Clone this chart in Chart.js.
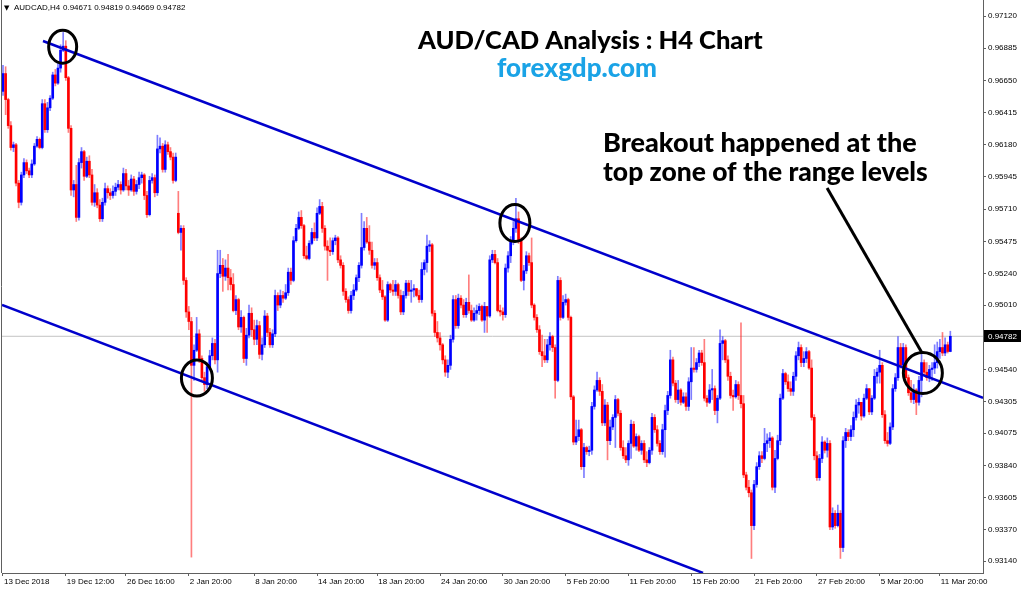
<!DOCTYPE html>
<html><head><meta charset="utf-8">
<script src="https://cdn.jsdelivr.net/npm/chart.js@4.4.1/dist/chart.umd.min.js"></script>
<style>html,body{margin:0;padding:0;background:#fff;}#wrap{width:1024px;height:589px;position:relative;}</style>
</head><body><div id="wrap"><canvas id="c"></canvas></div>
<script>
const symbolName = "AUDCAD,H4";
const opens = [
.9657,.9670,.9651,.9632,.9616,.9618,.9590,.9576,.9596,.9605,
.9599,.9596,.9604,.9617,.9622,.9616,.9648,.9629,.9645,.9652,
.9669,.9663,.9674,.9687,.9690,.9667,.9630,.9585,.9589,.9565,
.9605,.9613,.9595,.9606,.9596,.9576,.9583,.9574,.9564,.9576,
.9586,.9583,.9581,.9584,.9587,.9589,.9585,.9597,.9588,.9585,
.9593,.9584,.9589,.9594,.9596,.9581,.9567,.9592,.9594,.9583,
.9615,.9617,.9600,.9618,.9613,.9609,.9592,.9568,.9554,.9557,
.9519,.9496,.9489,.9457,.9468,.9480,.9462,.9448,.9443,.9456,
.9464,.9473,.9461,.9524,.9530,.9522,.9528,.9521,.9516,.9497,
.9505,.9485,.9492,.9462,.9479,.9495,.9483,.9476,.9486,.9465,
.9472,.9493,.9481,.9472,.9480,.9508,.9501,.9508,.9506,.9510,
.9525,.9519,.9548,.9557,.9565,.9559,.9537,.9535,.9546,.9554,
.9550,.9568,.9573,.9557,.9544,.9541,.9540,.9548,.9550,.9534,
.9530,.9511,.9505,.9497,.9508,.9512,.9521,.9530,.9543,.9557,
.9547,.9541,.9530,.9532,.9521,.9512,.9507,.9490,.9516,.9512,
.9511,.9516,.9508,.9496,.9508,.9517,.9511,.9512,.9513,.9508,
.9505,.9527,.9532,.9544,.9545,.9495,.9481,.9477,.9472,.9461,
.9452,.9457,.9476,.9505,.9486,.9506,.9501,.9494,.9503,.9497,
.9490,.9495,.9497,.9500,.9490,.9500,.9493,.9534,.9538,.9532,
.9497,.9496,.9494,.9528,.9537,.9548,.9557,.9564,.9548,.9519,
.9526,.9537,.9532,.9501,.9492,.9483,.9467,.9464,.9461,.9472,
.9478,.9470,.9446,.9519,.9492,.9503,.9505,.9492,.9434,.9401,
.9405,.9410,.9383,.9397,.9394,.9395,.9427,.9439,.9446,.9438,
.9415,.9428,.9402,.9412,.9419,.9432,.9422,.9397,.9391,.9388,
.9400,.9414,.9398,.9405,.9395,.9400,.9388,.9386,.9395,.9419,
.9410,.9400,.9394,.9410,.9424,.9435,.9461,.9444,.9432,.9439,
.9430,.9434,.9427,.9445,.9455,.9454,.9459,.9466,.9459,.9433,
.9430,.9439,.9440,.9424,.9433,.9473,.9475,.9461,.9449,.9435,
.9434,.9443,.9435,.9429,.9377,.9368,.9364,.9340,.9370,.9383,
.9391,.9389,.9400,.9402,.9404,.9368,.9389,.9402,.9433,.9451,
.9445,.9440,.9438,.9449,.9464,.9470,.9459,.9462,.9467,.9455,
.9419,.9391,.9375,.9389,.9401,.9395,.9400,.9339,.9349,.9340,
.9349,.9324,.9402,.9408,.9405,.9410,.9419,.9428,.9430,.9420,
.9433,.9440,.9423,.9433,.9449,.9452,.9457,.9421,.9402,.9400,
.9412,.9440,.9448,.9470,.9457,.9470,.9448,.9437,.9432,.9439,
.9430,.9446,.9459,.9452,.9448,.9454,.9455,.9459,.9467,.9470,
.9466,.9472,.94671];
const highs = [
.9676,.9675,.9652,.9635,.9620,.9619,.9592,.9598,.9608,.9607,
.9601,.9607,.9619,.9624,.9623,.9651,.9651,.9649,.9654,.9671,
.9673,.9678,.9691,.9700,.9694,.9668,.9632,.9592,.9603,.9608,
.9616,.9614,.9609,.9610,.9600,.9589,.9586,.9578,.9579,.9590,
.9588,.9586,.9588,.9590,.9592,.9591,.9601,.9600,.9592,.9596,
.9595,.9592,.9598,.9598,.9597,.9584,.9595,.9597,.9596,.9625,
.9623,.9619,.9621,.9620,.9616,.9612,.9612,.9584,.9559,.9559,
.9521,.9500,.9492,.9472,.9492,.9483,.9464,.9452,.9459,.9468,
.9477,.9476,.9541,.9541,.9535,.9534,.9538,.9527,.9524,.9508,
.9506,.9497,.9493,.9484,.9501,.9499,.9490,.9490,.9489,.9477,
.9497,.9495,.9484,.9483,.9512,.9510,.9512,.9511,.9516,.9528,
.9528,.9551,.9560,.9569,.9570,.9560,.9544,.9548,.9557,.9561,
.9572,.9578,.9576,.9559,.9548,.9550,.9550,.9552,.9551,.9537,
.9532,.9513,.9507,.9511,.9516,.9523,.9532,.9568,.9562,.9565,
.9559,.9547,.9535,.9535,.9523,.9519,.9508,.9518,.9517,.9519,
.9519,.9517,.9512,.9511,.9519,.9519,.9519,.9516,.9513,.9512,
.9532,.9534,.9552,.9548,.9546,.9497,.9489,.9481,.9473,.9464,
.9461,.9479,.9508,.9508,.9509,.9508,.9505,.9506,.9523,.9501,
.9499,.9501,.9502,.9501,.9503,.9500,.9537,.9541,.9541,.9535,
.9501,.9499,.9531,.9540,.9551,.9562,.9579,.9569,.9550,.9530,
.9540,.9539,.9550,.9502,.9494,.9486,.9479,.9476,.9476,.9481,
.9479,.9472,.9522,.9521,.9508,.9509,.9506,.9493,.9435,.9417,
.9417,.9411,.9400,.9398,.9398,.9430,.9442,.9452,.9448,.9443,
.9432,.9430,.9417,.9421,.9435,.9433,.9424,.9402,.9397,.9402,
.9417,.9416,.9407,.9406,.9402,.9402,.9394,.9397,.9422,.9421,
.9413,.9402,.9414,.9428,.9438,.9468,.9463,.9446,.9446,.9440,
.9437,.9437,.9448,.9470,.9470,.9462,.9468,.9468,.9476,.9435,
.9443,.9454,.9442,.9435,.9483,.9478,.9476,.9464,.9452,.9439,
.9446,.9445,.9488,.9435,.9379,.9373,.9366,.9373,.9386,.9394,
.9394,.9411,.9407,.9408,.9405,.9395,.9406,.9436,.9454,.9452,
.9450,.9445,.9452,.9467,.9474,.9472,.9467,.9470,.9468,.9461,
.9421,.9394,.9392,.9405,.9402,.9404,.9402,.9353,.9351,.9355,
.9351,.9405,.9411,.9410,.9413,.9423,.9432,.9433,.9430,.9436,
.9443,.9440,.9435,.9454,.9455,.9468,.9459,.9424,.9408,.9415,
.9443,.9451,.9478,.9473,.9473,.9472,.9450,.9446,.9443,.9440,
.9449,.9465,.9461,.9459,.9457,.9459,.9472,.9474,.9476,.9481,
.9477,.9474,.94819];
const lows = [
.9654,.9640,.9630,.9614,.9613,.9588,.9572,.9574,.9594,.9597,
.9594,.9594,.9603,.9616,.9615,.9615,.9627,.9627,.9643,.9651,
.9661,.9662,.9671,.9686,.9665,.9627,.9581,.9580,.9562,.9563,
.9601,.9592,.9594,.9594,.9574,.9573,.9572,.9562,.9562,.9574,
.9579,.9578,.9579,.9581,.9585,.9582,.9584,.9585,.9581,.9584,
.9581,.9582,.9586,.9590,.9578,.9565,.9566,.9590,.9580,.9581,
.9612,.9598,.9598,.9611,.9607,.9590,.9591,.9553,.9541,.9516,
.9492,.9483,.9317,.9446,.9467,.9459,.9445,.9438,.9440,.9454,
.9461,.9458,.9452,.9521,.9511,.9519,.9512,.9512,.9496,.9494,
.9483,.9481,.9459,.9457,.9477,.9478,.9472,.9472,.9462,.9461,
.9470,.9478,.9470,.9470,.9478,.9497,.9499,.9503,.9505,.9508,
.9516,.9518,.9547,.9556,.9557,.9535,.9534,.9534,.9545,.9548,
.9548,.9567,.9554,.9541,.9519,.9537,.9538,.9545,.9532,.9528,
.9508,.9503,.9495,.9495,.9505,.9511,.9518,.9528,.9541,.9546,
.9538,.9528,.9527,.9519,.9510,.9505,.9489,.9489,.9510,.9508,
.9508,.9506,.9494,.9494,.9506,.9508,.9503,.9507,.9507,.9503,
.9503,.9523,.9525,.9540,.9493,.9478,.9474,.9468,.9458,.9449,
.9448,.9454,.9474,.9484,.9484,.9499,.9492,.9492,.9495,.9489,
.9489,.9490,.9494,.9489,.9481,.9481,.9492,.9532,.9531,.9496,
.9493,.9490,.9492,.9525,.9532,.9545,.9554,.9546,.9518,.9512,
.9524,.9530,.9499,.9490,.9481,.9465,.9456,.9459,.9459,.9468,
.9467,.9433,.9445,.9490,.9491,.9501,.9490,.9432,.9399,.9399,
.9402,.9381,.9375,.9392,.9391,.9392,.9425,.9438,.9435,.9413,
.9413,.9388,.9399,.9410,.9397,.9420,.9395,.9389,.9386,.9384,
.9389,.9397,.9395,.9394,.9392,.9386,.9383,.9385,.9392,.9408,
.9398,.9392,.9392,.9390,.9421,.9433,.9442,.9430,.9429,.9428,
.9429,.9424,.9424,.9432,.9452,.9452,.9456,.9457,.9431,.9427,
.9429,.9432,.9421,.9415,.9432,.9461,.9459,.9446,.9433,.9424,
.9433,.9432,.9426,.9375,.9366,.9361,.9316,.9337,.9368,.9381,
.9386,.9388,.9394,.9397,.9366,.9364,.9388,.9399,.9432,.9443,
.9438,.9435,.9435,.9446,.9461,.9456,.9456,.9459,.9454,.9417,
.9388,.9373,.9373,.9386,.9393,.9390,.9337,.9337,.9338,.9339,
.9316,.9321,.9397,.9402,.9402,.9405,.9417,.9422,.9417,.9419,
.9432,.9421,.9421,.9432,.9444,.9444,.9419,.9400,.9398,.9399,
.9410,.9438,.9446,.9455,.9454,.9446,.9435,.9430,.9429,.9421,
.9428,.9434,.9450,.9446,.9445,.9446,.9451,.9455,.9462,.9464,
.9464,.9466,.94669];
const closes = [
.9670,.9651,.9632,.9616,.9618,.9590,.9576,.9596,.9605,.9599,
.9596,.9604,.9617,.9622,.9616,.9648,.9629,.9645,.9652,.9669,
.9663,.9674,.9687,.9690,.9667,.9630,.9585,.9589,.9565,.9605,
.9613,.9595,.9606,.9596,.9576,.9583,.9574,.9564,.9576,.9586,
.9583,.9581,.9584,.9587,.9589,.9585,.9597,.9588,.9585,.9593,
.9584,.9589,.9594,.9596,.9581,.9567,.9592,.9594,.9583,.9615,
.9617,.9600,.9618,.9613,.9609,.9592,.9609,.9554,.9557,.9519,
.9496,.9489,.9457,.9468,.9480,.9462,.9448,.9443,.9456,.9464,
.9473,.9461,.9524,.9530,.9522,.9528,.9521,.9516,.9497,.9505,
.9485,.9492,.9462,.9479,.9495,.9483,.9476,.9486,.9465,.9472,
.9493,.9481,.9472,.9480,.9508,.9501,.9508,.9506,.9510,.9525,
.9519,.9548,.9557,.9565,.9559,.9537,.9535,.9546,.9554,.9550,
.9568,.9573,.9557,.9544,.9541,.9540,.9548,.9550,.9534,.9530,
.9511,.9505,.9497,.9508,.9512,.9521,.9530,.9543,.9557,.9547,
.9541,.9530,.9532,.9521,.9512,.9507,.9490,.9516,.9512,.9511,
.9516,.9508,.9496,.9508,.9517,.9511,.9512,.9513,.9508,.9505,
.9527,.9532,.9544,.9545,.9495,.9481,.9477,.9472,.9461,.9452,
.9457,.9476,.9505,.9486,.9506,.9501,.9494,.9503,.9497,.9490,
.9495,.9497,.9500,.9490,.9500,.9493,.9534,.9538,.9532,.9497,
.9496,.9494,.9528,.9537,.9548,.9557,.9564,.9548,.9519,.9526,
.9537,.9532,.9501,.9492,.9483,.9467,.9464,.9461,.9472,.9478,
.9470,.9446,.9519,.9492,.9503,.9505,.9492,.9434,.9401,.9405,
.9410,.9383,.9397,.9394,.9395,.9427,.9439,.9446,.9438,.9415,
.9428,.9402,.9412,.9419,.9432,.9422,.9397,.9391,.9388,.9400,
.9414,.9398,.9405,.9395,.9400,.9388,.9386,.9395,.9419,.9410,
.9400,.9394,.9410,.9424,.9435,.9461,.9444,.9432,.9439,.9430,
.9434,.9427,.9445,.9455,.9454,.9459,.9466,.9459,.9433,.9430,
.9439,.9440,.9424,.9433,.9473,.9475,.9461,.9449,.9435,.9434,
.9443,.9435,.9429,.9377,.9368,.9364,.9340,.9370,.9383,.9391,
.9389,.9400,.9402,.9404,.9368,.9389,.9402,.9433,.9451,.9445,
.9440,.9438,.9449,.9464,.9470,.9459,.9462,.9467,.9455,.9419,
.9391,.9375,.9389,.9401,.9395,.9400,.9339,.9349,.9340,.9349,
.9324,.9402,.9408,.9405,.9410,.9419,.9428,.9430,.9420,.9433,
.9440,.9423,.9433,.9449,.9452,.9457,.9421,.9402,.9400,.9412,
.9440,.9448,.9470,.9457,.9470,.9448,.9437,.9432,.9439,.9430,
.9446,.9459,.9452,.9448,.9454,.9455,.9459,.9467,.9470,.9466,
.9472,.94671,.94782];

const xTickIndex = [0,24,47,71,96,120,143,167,191,215,239,263,287,311,335,358];
const xTickLabels = ["13 Dec 2018","19 Dec 12:00","26 Dec 16:00","2 Jan 20:00","8 Jan 20:00","14 Jan 20:00","18 Jan 20:00","24 Jan 20:00","30 Jan 20:00","5 Feb 20:00","11 Feb 20:00","15 Feb 20:00","21 Feb 20:00","27 Feb 20:00","5 Mar 20:00","11 Mar 20:00"];
const yTickValues = [0.93140,0.93370,0.93605,0.93840,0.94075,0.94305,0.94540,0.95010,0.95240,0.95475,0.95710,0.95945,0.96180,0.96415,0.96650,0.96885,0.97120];
const lastPrice = 0.94782;

// trend lines and arrow, in (bar index, price)
const upperTrend = [{x:15.28,y:0.96938},{x:374.48,y:0.94332}];
const lowerTrend = [{x:-0.38,y:0.95011},{x:267.5,y:0.93054}];
const arrowLine  = [{x:314.9,y:0.95865},{x:351.2,y:0.94660}];
// circled points, in (bar index, price)
const circlePoints = [{x:22.8,y:0.96896},{x:74.1,y:0.94478},{x:195.6,y:0.95609},{x:351.5,y:0.94514}];
const circleSize = [[14,16.5],[15.5,18],[15,18.5],[19.5,20.5]];

const X_MIN = -0.382, X_MAX = 374.48, Y_MIN = 0.93054, Y_MAX = 0.97237;
const tickFont = {family:'"Liberation Sans", Arial, sans-serif', size:8};

const up = closes.map((c,i)=>c>=opens[i]);
const bodyData = closes.map((c,i)=>({x:i, y:[opens[i], c]}));
const wickData = closes.map((c,i)=>({x:i, y:[lows[i], highs[i]]}));

const overlay = {
  id:'overlay',
  afterDatasetsDraw(chart){
    const {ctx, scales:{x,y}} = chart;
    ctx.save();
    ctx.strokeStyle='#000'; ctx.lineWidth=3;
    circlePoints.forEach((p,k)=>{
      ctx.beginPath();
      ctx.ellipse(x.getPixelForValue(p.x), y.getPixelForValue(p.y), circleSize[k][0], circleSize[k][1], 0, 0, Math.PI*2);
      ctx.stroke();
    });
    ctx.restore();
  },
  afterDraw(chart){
    const {ctx, chartArea:a, scales:{x,y}} = chart;
    ctx.save();
    ctx.strokeStyle='#606060'; ctx.lineWidth=1;
    ctx.beginPath(); ctx.moveTo(a.left-0.5,0); ctx.lineTo(a.left-0.5,a.bottom); ctx.stroke();
    ctx.fillStyle='#000'; ctx.textBaseline='alphabetic';
    ctx.font='7px "DejaVu Sans", sans-serif';
    ctx.fillText('\u25BC', 4, 10);
    ctx.font='8px "Liberation Sans", Arial, sans-serif';
    ctx.fillText(symbolName, 14, 10);
    const n = closes.length-1;
    ctx.fillText([opens[n],highs[n],lows[n],closes[n]].map(v=>v.toFixed(5)).join(' '), 63, 10);
    const py = Math.round(y.getPixelForValue(lastPrice));
    ctx.fillStyle='#000'; ctx.fillRect(a.right+1, py-6, 37, 12);
    ctx.fillStyle='#fff'; ctx.textBaseline='middle';
    ctx.fillText(lastPrice.toFixed(5), a.right+5, py+0.5);
    ctx.textBaseline='alphabetic';
    const fam = 'Lato, "Open Sans", sans-serif';
    const fit=(txt,x0,yb,w,color,size)=>{
      ctx.font='900 '+size+'px '+fam;
      const m=ctx.measureText(txt).width;
      const s=Math.max(18,Math.min(28,size*w/m));
      ctx.font='900 '+s+'px '+fam;
      ctx.fillStyle=color; ctx.fillText(txt,x0,yb,w+4);
    };
    fit('AUD/CAD Analysis : H4 Chart',418,49,345,'#000',23);
    fit('forexgdp.com',497,77,160,'#1aa3e6',22);
    fit('Breakout happened at the',603,152,314,'#000',23);
    fit('top zone of the range levels',603,181,325,'#000',23);
    ctx.restore();
  }
};

new Chart(document.getElementById('c'), {
  type:'bar',
  data:{datasets:[
    {type:'line', label:'arrow', data:arrowLine, borderColor:'#000', borderWidth:3, pointRadius:0, fill:false, order:0},
    {type:'line', label:'upper', data:upperTrend, borderColor:'#0000cc', borderWidth:2.5, pointRadius:0, fill:false, order:1},
    {type:'line', label:'lower', data:lowerTrend, borderColor:'#0000cc', borderWidth:2.5, pointRadius:0, fill:false, order:1},
    {label:'body', data:bodyData, backgroundColor:up.map(u=>u?'#0000ff':'#ff0000'), barThickness:2, minBarLength:1, grouped:false, borderWidth:0, order:2},
    {label:'wick', data:wickData, backgroundColor:up.map(u=>u?'rgba(40,40,255,0.6)':'rgba(255,40,40,0.6)'), barThickness:1, grouped:false, borderWidth:0, order:3},
    {type:'line', label:'price', data:[{x:X_MIN,y:lastPrice},{x:X_MAX,y:lastPrice}], borderColor:'#c4c4c4', borderWidth:1, pointRadius:0, fill:false, order:5}
  ]},
  options:{
    responsive:true, maintainAspectRatio:false, animation:false, devicePixelRatio:1, events:[],
    layout:{padding:{left:2,top:0,right:0,bottom:0}},
    plugins:{legend:{display:false}, tooltip:{enabled:false}},
    scales:{
      x:{type:'linear', min:X_MIN, max:X_MAX, offset:false, bounds:'data',
        grid:{display:true, offset:false, drawOnChartArea:false, drawTicks:true, tickLength:3, color:'#606060'},
        border:{display:true, color:'#606060', width:1},
        ticks:{autoSkip:false, maxRotation:0, minRotation:0, align:'start', labelOffset:1, padding:1, font:tickFont, color:'#000',
          callback:(v,i)=>xTickLabels[i]},
        afterBuildTicks:s=>{ s.ticks = xTickIndex.map(v=>({value:v})); },
        afterFit:s=>{ s.height=16; s.paddingLeft=0; s.paddingRight=0; }
      },
      y:{type:'linear', position:'right', min:Y_MIN, max:Y_MAX, bounds:'data',
        grid:{display:true, drawOnChartArea:false, drawTicks:true, tickLength:3, color:'#606060'},
        border:{display:true, color:'#606060', width:1},
        ticks:{autoSkip:false, padding:2, font:tickFont, color:'#000', callback:v=>Number(v).toFixed(5)},
        afterBuildTicks:s=>{ s.ticks = yTickValues.map(v=>({value:v})); },
        afterFit:s=>{ s.width=41; s.paddingTop=0; s.paddingBottom=0; }
      }
    }
  },
  plugins:[overlay]
});
</script></body></html>
